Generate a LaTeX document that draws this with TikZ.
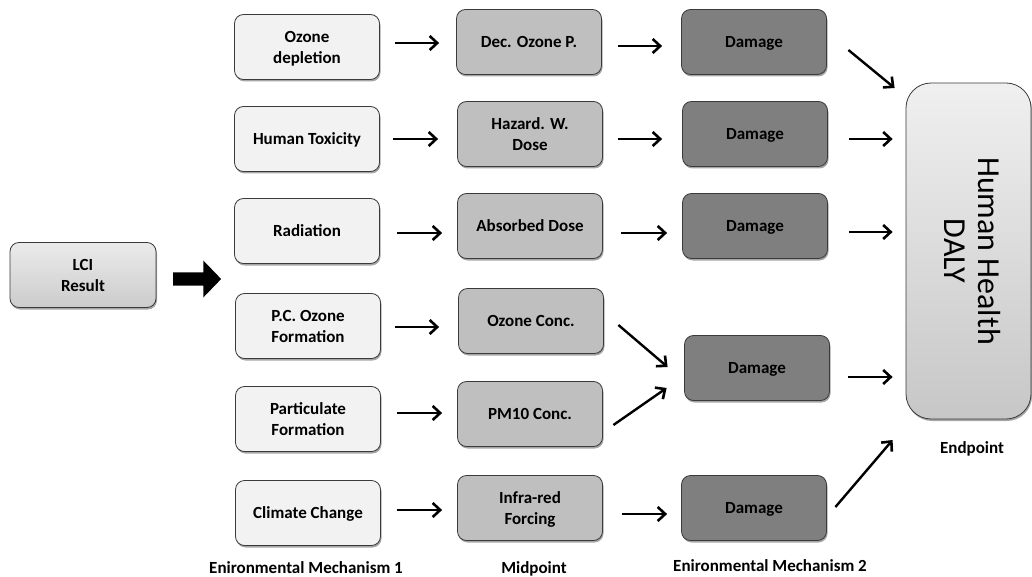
\documentclass[tikz,border=0pt]{standalone}
\usepackage{fontspec}
\setmainfont{Carlito}
\usetikzlibrary{shadows,arrows.meta,shapes.arrows}
\definecolor{cone}{HTML}{F2F2F2}
\definecolor{ctwo}{HTML}{BFBFBF}
\definecolor{cthree}{HTML}{7F7F7F}
\definecolor{edge}{HTML}{3A3A3A}
\tikzset{
  box/.style={draw=edge, line width=0.8pt, rounded corners=9pt, minimum width=145pt, minimum height=65pt,
    align=center, font=\fontsize{17}{21}\selectfont\bfseries, text=black, text depth=0pt,
    drop shadow={shadow xshift=1pt, shadow yshift=-2pt, opacity=0.35, fill=black}},
  boxone/.style={box, fill=cone},
  boxtwo/.style={box, fill=ctwo},
  boxthree/.style={box, fill=cthree},
  arr/.style={line width=2.4pt, -{Straight Barb[length=7.5pt,width=14pt,line width=2.6pt]}},
  lbl/.style={font=\fontsize{17}{21}\selectfont\bfseries, anchor=center}
}
\begin{document}
\begin{tikzpicture}[x=1pt,y=-1pt]
\useasboundingbox (0,0) rectangle (1032,577);
% LCI
\node[box, top color=white!92!black, bottom color=black!20, minimum width=146pt] (lci) at (83,275) {LCI\\Result};
\node[single arrow, fill=black, draw=none, minimum width=37pt, minimum height=48pt,
  single arrow head extend=6.5pt, single arrow tip angle=92, anchor=center] (big) at (194,279) {};
% column 1
\node[boxone] (a1) at (307,47) {Ozone\\depletion};
\node[boxone] (a2) at (307,139) {Human Toxicity};
\node[boxone] (a3) at (307,231) {Radiation};
\node[boxone] (a4) at (308,326) {P.C. Ozone\\Formation};
\node[boxone] (a5) at (308,419) {Particulate\\Formation};
\node[boxone] (a6) at (308,513) {Climate Change};
% column 2
\node[boxtwo] (b1) at (529,42) {Dec. Ozone P.};
\node[boxtwo] (b2) at (530,134) {Hazard. W.\\Dose};
\node[boxtwo] (b3) at (530,226) {Absorbed Dose};
\node[boxtwo] (b4) at (531,321) {Ozone Conc.};
\node[boxtwo] (b5) at (530,414) {PM10 Conc.};
\node[boxtwo] (b6) at (530,508) {Infra-red\\Forcing};
% column 3
\node[boxthree] (c1) at (754,42) {Damage};
\node[boxthree] (c2) at (755,134) {Damage};
\node[boxthree] (c3) at (755,226) {Damage};
\node[boxthree] (c4) at (757,368) {Damage};
\node[boxthree] (c5) at (754,508) {Damage};
% endpoint
\node[draw=edge, line width=0.8pt, rounded corners=25pt, minimum width=125pt, minimum height=336pt,
  top color=black!6, bottom color=black!22,
  drop shadow={shadow xshift=1pt, shadow yshift=-2pt, opacity=0.35, fill=black}] (hh) at (968.5,251)
  {\rotatebox{-90}{\fontsize{32}{34}\selectfont\begin{tabular}{@{}c@{}}Human Health\\DALY\end{tabular}}};
% labels
\node[lbl] (l1) at (306,568) {Enironmental Mechanism 1};
\node[lbl] (l2) at (534,569) {Midpoint};
\node[lbl] (l3) at (770,566) {Enironmental Mechanism 2};
\node[lbl] (l4) at (972,449) {Endpoint};
% arrows col1 -> col2
\draw[arr, shorten <=15pt, shorten >=17pt] ([shift={(0,-4)}]a1.east) -- ([shift={(0,-4)}]a1.east -| b1.west);
\draw[arr, shorten <=13pt, shorten >=19pt] (a2.east) -- (a2.east -| b2.west);
\draw[arr, shorten <=17pt, shorten >=15pt] ([shift={(0,2)}]a3.east) -- ([shift={(0,2)}]a3.east -| b3.west);
\draw[arr, shorten <=14pt, shorten >=19pt] ([shift={(0,1)}]a4.east) -- ([shift={(0,1)}]a4.east -| b4.west);
\draw[arr, shorten <=16pt, shorten >=15pt] ([shift={(0,-6)}]a5.east) -- ([shift={(0,-6)}]a5.east -| b5.west);
\draw[arr, shorten <=16pt, shorten >=15pt] ([shift={(0,-3)}]a6.east) -- ([shift={(0,-3)}]a6.east -| b6.west);
% arrows col2 -> col3
\draw[arr, shorten <=16pt, shorten >=19pt] ([shift={(0,4)}]b1.east) -- ([shift={(0,4)}]b1.east -| c1.west);
\draw[arr, shorten <=15pt, shorten >=20pt] ([shift={(0,5)}]b2.east) -- ([shift={(0,5)}]b2.east -| c2.west);
\draw[arr, shorten <=18pt, shorten >=15pt] ([shift={(0,7)}]b3.east) -- ([shift={(0,7)}]b3.east -| c3.west);
\draw[arr, shorten <=19pt, shorten >=14pt] ([shift={(0,6)}]b6.east) -- ([shift={(0,6)}]b6.east -| c5.west);
\draw[arr] ([shift={(14.5,4)}]b4.east) -- ([shift={(-16.5,-1)}]c4.west);
\draw[arr] ([shift={(10.5,11)}]b5.east) -- ([shift={(-17.5,20)}]c4.west);
% arrows col3 -> endpoint
\draw[arr] ([shift={(21.5,8)}]c1.east) -- ([shift={(-11,-163)}]hh.west);
\draw[arr, shorten <=21pt, shorten >=13pt] ([shift={(0,5)}]c2.east) -- ([shift={(0,5)}]c2.east -| hh.west);
\draw[arr, shorten <=21pt, shorten >=13pt] ([shift={(0,6)}]c3.east) -- ([shift={(0,6)}]c3.east -| hh.west);
\draw[arr, shorten <=18pt, shorten >=13pt] ([shift={(0,9)}]c4.east) -- ([shift={(0,9)}]c4.east -| hh.west);
\draw[arr] ([shift={(8.5,-1)}]c5.east) -- ([shift={(-13,189)}]hh.west);
\end{tikzpicture}
\end{document}
